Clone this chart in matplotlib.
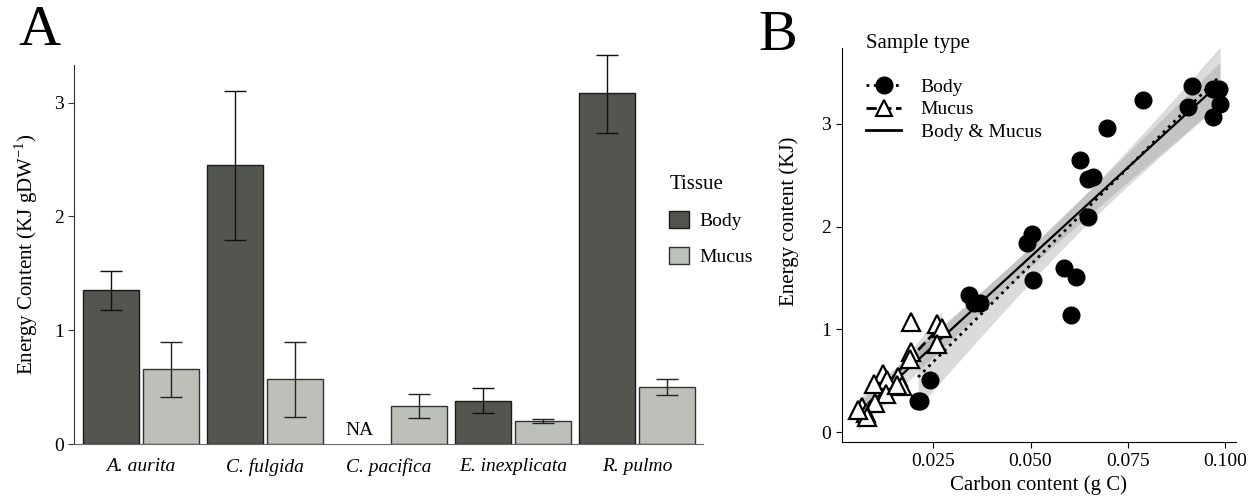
import numpy as np
import matplotlib
matplotlib.use("Agg")
import matplotlib.pyplot as plt
from matplotlib.lines import Line2D
from matplotlib.patches import Patch

plt.rcParams['font.family'] = ['Liberation Serif', 'DejaVu Serif']
plt.rcParams['mathtext.fontset'] = 'custom'
plt.rcParams['mathtext.rm'] = 'Liberation Serif'

# Panel A data
species = ['A. aurita', 'C. fulgida', 'C. pacifica', 'E. inexplicata', 'R. pulmo']
body_mean = [1.35, 2.45, np.nan, 0.38, 3.08]
body_lo = [1.18, 1.79, np.nan, 0.27, 2.73]
body_hi = [1.52, 3.10, np.nan, 0.495, 3.415]
mucus_mean = [0.656, 0.568, 0.331, 0.202, 0.50]
mucus_lo = [0.413, 0.237, 0.226, 0.187, 0.43]
mucus_hi = [0.896, 0.90, 0.437, 0.22, 0.568]

# Panel B data
body_c = [0.0914, 0.0788, 0.0905, 0.0968, 0.0985, 0.0987, 0.0968, 0.0696,
          0.0628, 0.0648, 0.066, 0.0647, 0.0505, 0.049, 0.0507, 0.0586,
          0.0617, 0.0604, 0.0341, 0.0355, 0.037, 0.0241, 0.0211, 0.0216]
body_e = [3.37, 3.233, 3.16, 3.337, 3.337, 3.19, 3.07, 2.963,
          2.651, 2.46, 2.48, 2.093, 1.925, 1.837, 1.48, 1.594,
          1.512, 1.139, 1.334, 1.253, 1.253, 0.506, 0.30, 0.30]
mucus_c = [0.0194, 0.0259, 0.0272, 0.0259, 0.0193, 0.019, 0.016, 0.0169,
           0.0122, 0.013, 0.0098, 0.0128, 0.0100, 0.0066, 0.0077, 0.0079,
           0.0057, 0.0156]
mucus_e = [1.074, 1.052, 1.01, 0.857, 0.782, 0.708, 0.538, 0.451,
           0.562, 0.506, 0.467, 0.367, 0.279, 0.246, 0.182, 0.149,
           0.214, 0.458]

body_col = '#53554f'
mucus_col = '#bdc0b8'

fig = plt.figure(figsize=(12.51, 5.04), dpi=100)

# ---------- Panel A ----------
ax = fig.add_axes([0.0592, 0.119, 0.5026, 0.752])
x = np.arange(len(species))
w = 0.45
off = 0.24
ax.bar(x - off, body_mean, w, color=body_col, edgecolor='#1a1a1a', linewidth=1)
ax.bar(x + off, mucus_mean, w, color=mucus_col, edgecolor='#333333', linewidth=1)
for i in range(len(species)):
    if not np.isnan(body_mean[i]):
        eb = ax.errorbar(x[i] - off, body_mean[i],
                         yerr=[[body_mean[i] - body_lo[i]], [body_hi[i] - body_mean[i]]],
                         color='#111111', capsize=8, elinewidth=1, capthick=1)
        for art in eb.lines[1] + eb.lines[2]:
            art.set_clip_on(False)
    else:
        ax.text(x[i] - off, 0.12, 'NA', ha='center', va='center', fontsize=14)
    ax.errorbar(x[i] + off, mucus_mean[i],
                yerr=[[mucus_mean[i] - mucus_lo[i]], [mucus_hi[i] - mucus_mean[i]]],
                color='#222222', capsize=8, elinewidth=1, capthick=1)

ax.set_xlim(-0.54, 4.53)
ax.set_ylim(0, 3.33)
ax.set_xticks(x)
ax.set_xticklabels(species, fontstyle='italic', fontsize=14)
ax.set_yticks([0, 1, 2, 3])
ax.tick_params(axis='y', labelsize=14, length=4, color='#333333')
ax.tick_params(axis='x', length=0, pad=10)
for s in ['top', 'right']:
    ax.spines[s].set_visible(False)
ax.spines['left'].set_color('#333333')
ax.spines['bottom'].set_color('#666666')
ax.set_ylabel('Energy Content (KJ gDW$^{-1}$)', fontsize=15, labelpad=10)

handles = [Patch(facecolor=body_col, edgecolor='#1a1a1a', label='Body'),
           Patch(facecolor=mucus_col, edgecolor='#333333', label='Mucus')]
leg = ax.legend(handles=handles, title='Tissue', loc='upper left',
                bbox_to_anchor=(0.925, 0.745), frameon=False, fontsize=14,
                title_fontsize=15, handlelength=1.0, handleheight=1.0,
                labelspacing=0.85, handletextpad=0.55, borderpad=0.2)
leg._legend_box.align = 'left'

fig.text(0.015, 0.91, 'A', fontsize=42)

# ---------- Panel B ----------
bx = fig.add_axes([0.6728, 0.1224, 0.3152, 0.7817])


def fit_band(xv, yv):
    xv = np.asarray(xv)
    yv = np.asarray(yv)
    n = len(xv)
    b, a = np.polyfit(xv, yv, 1)
    xs = np.linspace(xv.min(), xv.max(), 100)
    ys = a + b * xs
    res = yv - (a + b * xv)
    s = np.sqrt(np.sum(res ** 2) / (n - 2))
    se = s * np.sqrt(1 / n + (xs - xv.mean()) ** 2 / np.sum((xv - xv.mean()) ** 2))
    t = 2.07
    return xs, ys, ys - t * se, ys + t * se


all_c = body_c + mucus_c
all_e = body_e + mucus_e
for xv, yv, ls in [(body_c, body_e, ':'), (mucus_c, mucus_e, '--'), (all_c, all_e, '-')]:
    xs, ys, lo, hi = fit_band(xv, yv)
    bx.fill_between(xs, lo, hi, color='#999999', alpha=0.35, linewidth=0)
    bx.plot(xs, ys, color='black', linestyle=ls, linewidth=2 if ls != '-' else 1.6)

bx.plot(body_c, body_e, 'o', color='black', markersize=12, linestyle='none')
bx.plot(mucus_c, mucus_e, '^', markerfacecolor='white', markeredgecolor='black',
        markeredgewidth=1.6, markersize=13, linestyle='none')

bx.set_xlim(0.00147, 0.1028)
bx.set_ylim(-0.10, 3.736)
bx.set_xticks([0.025, 0.050, 0.075, 0.100])
bx.set_xticklabels(['0.025', '0.050', '0.075', '0.100'])
bx.set_yticks([0, 1, 2, 3])
bx.tick_params(labelsize=14, length=4)
for s in ['top', 'right']:
    bx.spines[s].set_visible(False)
bx.set_xlabel('Carbon content (g C)', fontsize=15)
bx.set_ylabel('Energy content (KJ)', fontsize=15)
bx.yaxis.set_label_coords(-0.108, 0.56)

lh = [Line2D([], [], color='black', linestyle=':', linewidth=2, marker='o', markersize=12),
      Line2D([], [], color='black', linestyle='--', linewidth=2, marker='^', markersize=11,
             markerfacecolor='white', markeredgewidth=1.6),
      Line2D([], [], color='black', linestyle='-', linewidth=2)]
leg2 = bx.legend(lh, ['Body', 'Mucus', 'Body & Mucus'], title='Sample type',
                 loc='upper left', bbox_to_anchor=(0.028, 1.07), frameon=False,
                 fontsize=14, title_fontsize=15, handlelength=1.8, labelspacing=0.25,
                 handletextpad=1.0, borderpad=0.2)
leg2._legend_box.align = 'left'
leg2._legend_box.sep = 18

fig.text(0.606, 0.9, 'B', fontsize=42)

fig.savefig('out.png', dpi=100)
